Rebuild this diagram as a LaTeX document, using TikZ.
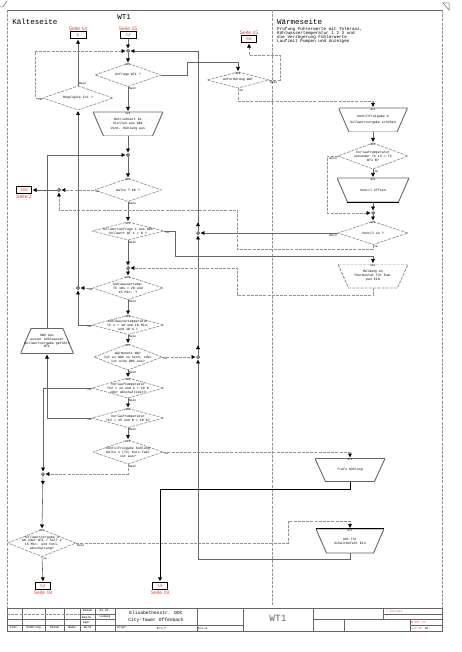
\documentclass[tikz,border=0pt]{standalone}
\usepackage{fontspec}
\setmainfont{Liberation Mono}
\newfontfamily\seitefont{Liberation Sans}
\usetikzlibrary{arrows.meta,decorations.markings}

\definecolor{lgray}{HTML}{666666}
\definecolor{dgray}{HTML}{939393}
\definecolor{seitered}{HTML}{EE3B3B}

\begin{document}
\begin{tikzpicture}[x=1pt,y=-1pt]

      \tikzset{
        txt/.style={font=\fontsize{3.3}{3.9}\selectfont, align=center, inner sep=0pt},
        num/.style={font=\fontsize{2.6}{2.6}\selectfont, inner sep=0.6pt},
        yn/.style={font=\fontsize{3}{3}\selectfont, inner sep=0.8pt},
        head/.style={font=\fontsize{7.5}{7.5}\selectfont, inner sep=0pt},
        seite/.style={font=\seitefont\fontsize{5}{5}\selectfont, text=seitered, inner sep=0.8pt},
        conn/.style={draw, line width=0.7pt, minimum width=16, minimum height=7, inner sep=0pt, font=\fontsize{4.2}{4.2}\selectfont, text=seitered},
        dec/.style={txt, path picture={\draw[dgray, line width=0.7pt, dash pattern=on 3pt off 1.2pt]
            (path picture bounding box.north) -- (path picture bounding box.east) -- (path picture bounding box.south) -- (path picture bounding box.west) -- cycle;}},
        proc/.style={txt, path picture={\draw[#1, line width=0.9pt]
            (path picture bounding box.north west) -- (path picture bounding box.north east) -- ([xshift=-10.5pt]path picture bounding box.south east) -- ([xshift=10.5pt]path picture bounding box.south west) -- cycle;}},
        proc/.default=lgray,
        procup/.style={txt, path picture={\draw[lgray, line width=0.9pt]
            ([xshift=10.5pt]path picture bounding box.north west) -- ([xshift=-10.5pt]path picture bounding box.north east) -- (path picture bounding box.south east) -- (path picture bounding box.south west) -- cycle;}},
        jn/.style={circle, draw, fill=white, inner sep=0pt, minimum size=2.8pt, line width=0.5pt},
        ln/.style={draw=lgray, line width=0.6pt},
        dln/.style={draw=dgray, line width=0.6pt, dash pattern=on 3pt off 1.2pt},
        bln/.style={draw=black, line width=1pt},
        arr/.style={-{Triangle[length=3.8pt,width=3.8pt,color=black]}, shorten >=1pt},
        mk/.style={postaction={decorate, decoration={markings, mark=at position #1 with {\arrow{Triangle[length=3.8pt,width=3.8pt,color=black]}}}}}
      }
      \useasboundingbox (0,0) rectangle (462,652);
% Frame
      \draw[ln] (7,10) -- (442,10);
      \draw[dln] (7,10) -- (7,608);
      \draw[dln] (442,10) -- (442,608);
      \draw[dln] (272,10) -- (272,606);
      \draw[ln, line width=0.5pt] (0,7) -- (3,7) -- (7,1);
      \draw[ln, line width=0.5pt] (443,3) -- (449,10) -- (449,3) -- cycle;
% Headings
      \node[head] (hk) at (35,22) {Kälteseite};
      \node[head] (hwt) at (124,17) {WT1};
      \node[head, anchor=west] (hw) at (277,22) {Wärmeseite};
      \node[txt, font=\fontsize{4.3}{4.2}\selectfont, anchor=north west, align=left] (hd) at (277,27) {Prüfung Fühlerwerte mit Toleranz,\\Kühlwassertemperatur 1 2 3 und\\die Verzögerung Fühlerwerte\\Laufzeit Pumpen und Anzeigen};
% Page connectors
      \node[conn, label={[seite]above:Seite 14}] (B6) at (78,35) {6};
      \node[conn, label={[seite]above:Seite 15}] (B42) at (128,35) {42};
      \node[conn, minimum width=15, label={[seite]above:Seite 15}] (B50) at (249,39) {50};
      \node[conn, minimum width=15, label={[seite]below:Seite 2}] (B2) at (24,190) {100};
      \node[conn, minimum width=15, label={[seite]below:Seite 18}] (B52) at (43,586) {52};
      \node[conn, minimum width=15, label={[seite]below:Seite 19}] (B59) at (160,586) {59};
% Junctions
      \node[jn] (J1) at (128,51) {};
      \node[jn] (J2) at (128,155) {};
      \node[jn] (J3) at (128,268) {};
      \node[jn] (J4) at (43,474) {};
      \node[jn] (J5) at (198,357) {};
      \node[jn] (J6) at (198,233) {};
      \node[jn] (J7) at (59,190) {};
      \node[jn] (J8) at (78,288) {};
      \node[jn] (J9) at (373,213) {};
% Kaelteseite
      \node[dec, minimum width=66, minimum height=23, label={[num,anchor=north]north:K01}, label={[yn,anchor=north west]south:Nein}] (D1) at (128,75) {Anfrage WT1 ?};
      \node[dec, minimum width=70, minimum height=24, label={[yn,anchor=south west]north:Nein}, label={[yn,anchor=north east]west:Ja}] (RG) at (78,98) {Regelgüte Ist ?};
      \node[proc, minimum width=70, minimum height=24, label={[num,anchor=north]north:K02}] (T1) at (128,124) {Betriebsart K1\\Stellen aus DDC\\[1.5pt]Vent. Kühlung aus};
      \node[dec, minimum width=67, minimum height=23, label={[num,anchor=north]north:K03}, label={[yn,anchor=north west]south:Nein}, label={[yn,anchor=north west]west:Ja}] (D2) at (128,190) {Kälte T KK ?};
      \node[dec, minimum width=72, minimum height=18, label={[num,anchor=north]north:K04}, label={[yn,anchor=north west]south:Nein}, label={[yn,anchor=north west]east:Ja}] (D3) at (128,231) {Sollwertanfrage 1 aus DDC\\Sollwert WT 1 = 0 ?};
      \node[dec, minimum width=70, minimum height=23, label={[num,anchor=north]north:K05}, label={[yn,anchor=north west]south:Nein}, label={[yn,anchor=north east]west:Ja}] (D4) at (128,288) {Kühlwassertemp.\\TC 101 > 20 und\\15 Min. ?};
      \node[dec, minimum width=72, minimum height=19, label={[num,anchor=north]north:K06}, label={[yn,anchor=north west]south:Nein}, label={[yn,anchor=north east]west:Ja}] (D5) at (128,325) {Kühlwassertemperatur\\TC 1 < 18 und 10 Min.\\und 10 \% ?};
      \node[dec, minimum width=68, minimum height=26, label={[num,anchor=north]north:K07}, label={[yn,anchor=north west]south:Nein}, label={[yn,anchor=north west]east:Ja}] (D6) at (128,357) {Wärmenetz WW?\\Ist es DDC zu hoch, oder\\ist eine DDC aus?};
      \node[dec, minimum width=72, minimum height=20, label={[num,anchor=north]north:K08}, label={[yn,anchor=north west]south:Nein}, label={[yn,anchor=north east]west:Ja}] (D7) at (128,388) {Vorlauftemperatur\\TC2 > 12 und C > 10 K\\oder Abschaltzeit?};
      \node[dec, minimum width=72, minimum height=19, label={[num,anchor=north]north:K09}, label={[yn,anchor=north west]south:Nein}, label={[yn,anchor=north east]west:Ja}] (D8) at (128,418) {Vorlauftemperatur\\TC2 < 15 und R < 10 K?};
      \node[dec, minimum width=70, minimum height=24, label={[num,anchor=north]north:K10}, label={[yn,anchor=north west]south:Nein}, label={[yn,anchor=north west]east:Ja}] (D9) at (128,452) {Ventilfreigabe Kühlung\\Kälte 1 (TC) Kurz-Takt\\ist aus?};
      \node[procup, minimum width=53, minimum height=25] (TL) at (47,341) {SWV Aus\\ausser Kühlwasser\\Sollwertvorgabe geführt\\WT1};
      \node[dec, minimum width=68, minimum height=27, label={[num,anchor=north]north:K12}, label={[yn,anchor=north west]south:Ja}, label={[yn,anchor=north west]east:Nein}] (DL) at (42,543) {Sollwertvorgabe 3\\KK oder WT1 > Soll 2\\15 Min. und Fehl-\\abschaltung?};
      \node[proc, minimum width=70, minimum height=23, label={[num,anchor=north]north:K13}] (TK) at (350,470) {Trafo Kühlung};
      \node[proc, minimum width=68, minimum height=24, label={[num,anchor=north]north:K14}] (TA) at (350,541) {ASt für\\Schaltbefehl Ein};
% Waermeseite
      \node[dec, minimum width=62, minimum height=16, label={[num,anchor=north]north:W00}, label={[yn,anchor=north west]south:Ja}, label={[yn,anchor=north west]east:Nein}] (DWW) at (238,80) {Anforderung WW?};
      \node[proc, minimum width=69, minimum height=24, label={[num,anchor=north]north:W01}] (TW1) at (373,120) {Ventilfreigabe A\\[2pt]Sollwertvorgabe erhöhen};
      \node[dec, minimum width=70, minimum height=26, label={[num,anchor=north]north:W02}, label={[yn,anchor=north west]south:Ja}, label={[yn,anchor=north east]west:Nein}] (DVor) at (373,156) {Vorlauftemperatur\\sekundär TC 13 > TC\\WT1 B?};
      \node[proc, minimum width=72, minimum height=24, label={[num,anchor=north]north:W03}] (TW2) at (373,190) {Ventil öffnen};
      \node[dec, minimum width=70, minimum height=23, label={[num,anchor=north]north:W04}, label={[yn,anchor=north west]south:Ja}, label={[yn,anchor=north east]west:Nein}] (DVen) at (373,233) {Ventil zu ?};
      \node[proc={dgray, dash pattern=on 3pt off 1.2pt}, minimum width=70, minimum height=24, label={[num,anchor=north]north:W05}] (TW3) at (373,276) {Meldung an\\Thermostat für Pum-\\pen EIN};
      \draw[bln] ([xshift=10.5pt]TW2.south west) -- ([xshift=-10.5pt]TW2.south east);
      \draw[bln] (TA.north west) -- (TA.north east);
% Bends
      \coordinate (c1) at (288,521);
      \coordinate (c2) at (198,559);
      \coordinate (c3) at (237,249);
      \coordinate (c4) at (237,210);
      \coordinate (c5) at (175,256);
      \coordinate (c6) at (237,295);
      \coordinate (c7) at (237,268);
      \coordinate (c8) at (35,98);
      \coordinate (c9) at (187,62);
      \coordinate (c10) at (280,55);
      \coordinate (c11) at (238,101);
      \coordinate (c12) at (327,156);
      \coordinate (c14) at (350,489);
% Connectors
      \draw[ln,arr] (B42) -- (J1);
      \draw[ln,arr] (J1) -- (D1.north);
      \draw[ln,arr] (D1.south) -- (T1.north);
      \draw[ln,arr] (T1.south) -- (J2);
      \draw[ln,arr] (J2) -- (D2.north);
      \draw[ln,arr] (D2.south) -- (D3.north);
      \draw[ln,arr] (D3.south) -- (J3);
      \draw[ln,arr] (J3) -- (D4.north);
      \draw[ln,arr] (D4.south) -- (D5.north);
      \draw[ln,arr] (D5.south) -- (D6.north);
      \draw[ln,arr] (D6.south) -- (D7.north);
      \draw[ln,arr] (D7.south) -- (D8.north);
      \draw[ln,arr] (D8.south) -- (D9.north);
      \draw[dln,arr] (D9.south) |- (J4);
      \draw[ln,arr] (D7.west) -| (J4);
      \draw[ln,arr,mk=9pt] (J4) -- (DL.north);
      \draw[ln,arr] (DL.south) -- (B52.north);
      \draw[dln,arr] (DL.east) -| (c1) -| (TA.north);
      \draw[ln,arr] (TA.south) |- (c2) -- (J5);
      \draw[dln,arr] (D6.east) -- (J5);
      \draw[ln,arr,mk=10pt] (J5) -- (J6);
      \draw[ln,arr] (DVen.west) -- (J6);
      \draw[ln,arr,mk=9pt] (J6) |- (J1);
      \draw[dln,arr] (D2.west) -- (J7);
      \draw[dln,arr] (DVen.south) |- (c3) -- (c4) -| (J7);
      \draw[ln,arr] (J7) -- (B2.east);
      \draw[ln,arr] (D3.east) -| (c5) -| (TW3.north);
      \draw[dln,arr] (TW3.south) |- (c6) -- (c7) -- (J3);
      \draw[dln,arr] (D4.west) -- (J8);
      \draw[ln,arr] (D5.west) -| (J8);
      \draw[ln,arr] (J8) -- (RG.south);
      \draw[ln,arr] (RG.north) -- (B6.south);
      \draw[dln,arr] (RG.west) -- (c8) |- (J1);
      \draw[ln,arr] (D1.east) -| (c9) -| (DWW.north);
      \draw[dln,arr] (DWW.east) -| (c10) -| (B50.south);
      \draw[dln,arr] (DWW.south) -- (c11) -| (TW1.north);
      \draw[ln,arr] (TW1.south) -- (DVor.north);
      \draw[ln,arr] (DVor.south) -- (TW2.north);
      \draw[dln,arr] (DVor.west) -- (c12) |- (J9);
      \draw[ln,arr] (TW2.south) -- (J9);
      \draw[ln,arr] (J9) -- (DVen.north);
      \draw[ln,arr] (D8.west) -| (TL.south);
      \draw[ln,arr] (TL.north) |- (J2);
      \draw[dln,arr] (D9.east) -| (TK.north);
      \draw[bln,arr] (TK.south) -- (c14) -| (B59.north);
% Title block
      \draw[ln] (7,608) rectangle (442,631);
      \foreach \x in {22,45,64,80,95,115,197,243,313}
        \draw[ln] (\x,608) -- (\x,631);
      \draw[dln] (7,614) -- (80,614);
      \draw[ln] (80,614) -- (115,614);
      \draw[ln] (7,619.5) -- (115,619.5);
      \draw[ln] (7,625) -- (243,625);
      \draw[ln] (313,619.5) -- (442,619.5);
      \draw[ln] (344,619.5) -- (344,631);
      \draw[ln] (383,608) -- (383,619.5);
      \draw[ln] (383,614) -- (442,614);
      \draw[ln] (410,619.5) -- (410,631);
      \draw[ln] (410,625) -- (442,625);
      \node[txt, font=\fontsize{3}{3}\selectfont] (tb1) at (87.5,611) {Datum};
      \node[txt, font=\fontsize{3}{3}\selectfont] (tb2) at (105,611) {01.07.};
      \node[txt, font=\fontsize{3}{3}\selectfont] (tb3) at (87.5,617) {Bearb.};
      \node[txt, font=\fontsize{3}{3}\selectfont] (tb4) at (105,617) {Ludwig};
      \node[txt, font=\fontsize{3}{3}\selectfont] (tb5) at (87.5,622.5) {Gepr.};
      \node[txt, font=\fontsize{3}{3}\selectfont] (tb6) at (14.5,628) {Zust.};
      \node[txt, font=\fontsize{3}{3}\selectfont] (tb7) at (33.5,628) {Änderung};
      \node[txt, font=\fontsize{3}{3}\selectfont] (tb8) at (54.5,628) {Datum};
      \node[txt, font=\fontsize{3}{3}\selectfont] (tb9) at (72,628) {Name};
      \node[txt, font=\fontsize{3}{3}\selectfont] (tb10) at (87.5,628) {Norm};
      \node[txt, font=\fontsize{3}{3}\selectfont, anchor=west] (tb11) at (117,628) {Urspr.};
      \node[txt, font=\fontsize{3}{3}\selectfont, anchor=west] (tb12) at (157,628) {Ers.f.};
      \node[txt, font=\fontsize{3}{3}\selectfont, anchor=west] (tb13) at (198,628) {Ers.d.};
      \node[txt, font=\fontsize{4.6}{4.6}\selectfont] (tb14) at (156,612.5) {Elisabethenstr. DDC};
      \node[txt, font=\fontsize{4.6}{4.6}\selectfont] (tb15) at (156,620.5) {City-Tower Offenbach};
      \node[txt, font=\fontsize{9.5}{9.5}\selectfont, text=lgray] (tb16) at (278,618.5) {WT1};
      \node[txt, font=\fontsize{3}{3}\selectfont, text=seitered, anchor=west] (tb17) at (386,611.5) {= Projekt};
      \node[txt, font=\fontsize{3}{3}\selectfont, text=seitered, anchor=west] (tb18) at (386,617) {+};
      \node[txt, font=\fontsize{3}{3}\selectfont, text=seitered, anchor=west] (tb19) at (411,622.3) {Blatt 17};
      \node[txt, font=\fontsize{3}{3}\selectfont, anchor=west] (tb20) at (411,628) {\textcolor{seitered}{von 31}\hspace{3pt}Bl.};

	\end{tikzpicture}
\end{document}
